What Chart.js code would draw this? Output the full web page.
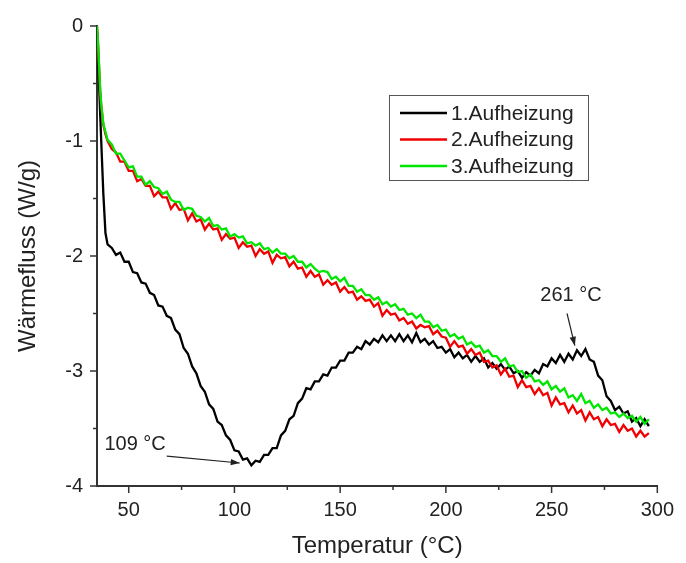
<!DOCTYPE html>
<html>
<head>
<meta charset="utf-8">
<script src="https://cdn.jsdelivr.net/npm/chart.js@4.4.1/dist/chart.umd.min.js"></script>
<style>
html,body{margin:0;padding:0;background:#fff;}
#wrap{width:686px;height:563px;position:relative;}
</style>
</head>
<body>
<div id="wrap"><canvas id="c"></canvas></div>
<script>
// ---- data ----
const temps = [35,35.5,36,36.5,37,38,39,40,
42,44,46,48,50,52,54,56,58,60,62,64,66,68,70,72,74,76,78,80,82,84,86,88,90,92,94,96,98,100,
102,104,106,108,110,112,114,116,118,120,122,124,126,128,130,132,134,136,138,140,142,144,146,148,150,
152,154,156,158,160,162,164,166,168,170,172,174,176,178,180,182,184,186,188,190,192,194,196,198,200,
202,204,206,208,210,212,214,216,218,220,222,224,226,228,230,232,234,236,238,240,242,244,246,248,250,
252,254,256,258,260,262,264,266,268,270,272,274,276,278,280,282,284,286,288,290,292,294,296];

const heat1 = [-0.05,-0.30,-0.52,-0.76,-1.00,-1.46,-1.80,-1.90,
-1.93,-1.99,-1.97,-2.05,-2.05,-2.14,-2.15,-2.23,-2.24,-2.32,-2.34,-2.43,-2.44,-2.52,-2.54,-2.64,-2.68,-2.80,-2.85,-2.96,-3.02,-3.13,-3.18,-3.29,-3.33,-3.44,-3.47,-3.56,-3.60,-3.69,
-3.70,-3.77,-3.76,-3.82,-3.78,-3.79,-3.73,-3.73,-3.67,-3.67,-3.56,-3.52,-3.42,-3.39,-3.28,-3.24,-3.15,-3.16,-3.09,-3.09,-3.03,-3.04,-2.97,-2.97,-2.91,
-2.91,-2.84,-2.84,-2.79,-2.81,-2.74,-2.77,-2.72,-2.75,-2.69,-2.74,-2.69,-2.74,-2.68,-2.74,-2.69,-2.75,-2.67,-2.75,-2.72,-2.77,-2.74,-2.80,-2.79,-2.84,
-2.81,-2.88,-2.84,-2.89,-2.86,-2.92,-2.87,-2.92,-2.89,-2.97,-2.93,-2.98,-2.94,-2.99,-2.96,-3.02,-3.00,-3.06,-3.01,-3.04,-2.99,-3.02,-2.94,-2.96,-2.89,
-2.93,-2.86,-2.92,-2.85,-2.90,-2.82,-2.87,-2.81,-2.90,-2.92,-3.04,-3.08,-3.22,-3.26,-3.34,-3.31,-3.37,-3.35,-3.44,-3.41,-3.48,-3.42,-3.48];

const heat2 = [0,-0.16,-0.36,-0.56,-0.69,-0.86,-0.94,-1.00,
-1.07,-1.10,-1.18,-1.18,-1.26,-1.26,-1.35,-1.33,-1.39,-1.39,-1.48,-1.44,-1.49,-1.49,-1.59,-1.54,-1.60,-1.59,-1.69,-1.63,-1.70,-1.68,-1.77,-1.72,-1.77,-1.76,-1.86,-1.81,-1.85,-1.84,
-1.93,-1.88,-1.92,-1.91,-2.00,-1.94,-1.98,-1.96,-2.06,-1.99,-2.02,-2.01,-2.09,-2.05,-2.11,-2.10,-2.18,-2.13,-2.18,-2.16,-2.25,-2.21,-2.25,-2.23,-2.31,
-2.27,-2.32,-2.31,-2.38,-2.35,-2.39,-2.38,-2.44,-2.41,-2.52,-2.47,-2.51,-2.50,-2.56,-2.54,-2.59,-2.57,-2.63,-2.60,-2.62,-2.61,-2.68,-2.65,-2.70,-2.71,
-2.79,-2.74,-2.79,-2.78,-2.85,-2.81,-2.86,-2.84,-2.92,-2.91,-2.97,-2.95,-3.03,-2.98,-3.05,-3.04,-3.14,-3.08,-3.14,-3.13,-3.20,-3.15,-3.21,-3.19,-3.30,
-3.23,-3.29,-3.28,-3.36,-3.30,-3.37,-3.34,-3.43,-3.36,-3.42,-3.40,-3.48,-3.42,-3.47,-3.46,-3.53,-3.47,-3.52,-3.50,-3.57,-3.52,-3.57,-3.54];

const heat3 = [0,-0.15,-0.35,-0.55,-0.68,-0.85,-0.92,-0.99,
-1.03,-1.11,-1.11,-1.17,-1.23,-1.22,-1.31,-1.31,-1.38,-1.35,-1.40,-1.41,-1.46,-1.44,-1.51,-1.53,-1.53,-1.60,-1.58,-1.59,-1.65,-1.66,-1.70,-1.67,-1.74,-1.73,-1.77,-1.76,-1.83,-1.81,
-1.84,-1.83,-1.89,-1.88,-1.91,-1.89,-1.94,-1.93,-1.97,-1.94,-1.98,-1.98,-2.02,-2.00,-2.05,-2.05,-2.10,-2.07,-2.11,-2.14,-2.13,-2.14,-2.20,-2.18,-2.22,
-2.19,-2.26,-2.26,-2.31,-2.29,-2.34,-2.34,-2.38,-2.36,-2.42,-2.40,-2.44,-2.42,-2.47,-2.46,-2.51,-2.50,-2.54,-2.51,-2.57,-2.57,-2.62,-2.60,-2.65,-2.64,
-2.70,-2.68,-2.72,-2.70,-2.77,-2.75,-2.79,-2.78,-2.84,-2.82,-2.87,-2.87,-2.92,-2.89,-2.96,-2.95,-3.01,-3.00,-3.06,-3.03,-3.09,-3.08,-3.12,-3.09,-3.16,
-3.13,-3.18,-3.15,-3.23,-3.21,-3.26,-3.20,-3.28,-3.26,-3.32,-3.29,-3.34,-3.32,-3.37,-3.36,-3.40,-3.37,-3.41,-3.39,-3.44,-3.40,-3.46,-3.42];

const seriesLabels = ['1.Aufheizung','2.Aufheizung','3.Aufheizung'];
const xTicks = [50,100,150,200,250,300];
const xMinorTicks = [75,125,175,225,275];
const yTicks = [-4,-3,-2,-1,0];
const yMinorTicks = [-3.5,-2.5,-1.5,-0.5];
const xTitle = 'Temperatur (°C)';
const yTitle = 'Wärmefluss (W/g)';
const notes = [
  {text:'109 °C', tx:38.5, ty:-3.64, align:'left', x0:68, y0:-3.74, x1:102.5, y1:-3.80},
  {text:'261 °C', tx:259.2, ty:-2.34, align:'center', x0:257.3, y0:-2.50, x1:261, y1:-2.78}
];

// ---- chart ----
const FONT = '"Liberation Sans", Arial, Helvetica, sans-serif';
Chart.defaults.font.family = FONT;
Chart.defaults.color = '#222';

const colors = ['#000000','#f00000','#00e600'];
const series = [heat1, heat2, heat3];

const datasets = series.map((s,i)=>({
  label: seriesLabels[i],
  data: temps.map((t,j)=>({x:t, y:s[j]})),
  borderColor: colors[i],
  borderWidth: 2.3,
  pointRadius: 0,
  tension: 0,
  fill: false,
  order: 3 - i
}));

function arrow(ctx, x0, y0, x1, y1){
  ctx.beginPath(); ctx.moveTo(x0,y0); ctx.lineTo(x1,y1); ctx.stroke();
  const ang = Math.atan2(y1-y0, x1-x0), L = 9, W = 3.2;
  ctx.beginPath();
  ctx.moveTo(x1,y1);
  ctx.lineTo(x1 - L*Math.cos(ang) + W*Math.sin(ang), y1 - L*Math.sin(ang) - W*Math.cos(ang));
  ctx.lineTo(x1 - L*Math.cos(ang) - W*Math.sin(ang), y1 - L*Math.sin(ang) + W*Math.cos(ang));
  ctx.closePath(); ctx.fill();
}

const overlay = {
  id: 'overlay',
  afterDraw(chart){
    const {ctx, chartArea:a} = chart;
    const x = chart.scales.x, y = chart.scales.y;
    ctx.save();
    ctx.strokeStyle = '#333'; ctx.lineWidth = 1.5;
    const seg = (x0,y0,x1,y1)=>{ctx.beginPath();ctx.moveTo(x0,y0);ctx.lineTo(x1,y1);ctx.stroke();};
    xTicks.forEach(v=>{const p=x.getPixelForValue(v); seg(p,a.bottom,p,a.bottom+7);});
    xMinorTicks.forEach(v=>{const p=x.getPixelForValue(v); seg(p,a.bottom,p,a.bottom+4);});
    yTicks.forEach(v=>{const p=y.getPixelForValue(v); seg(a.left-7,p,a.left,p);});
    yMinorTicks.forEach(v=>{const p=y.getPixelForValue(v); seg(a.left-4,p,a.left,p);});

    // annotations
    ctx.fillStyle = '#222'; ctx.strokeStyle = '#222'; ctx.lineWidth = 1.2;
    ctx.font = '20px ' + FONT; ctx.textBaseline = 'middle';
    notes.forEach(n=>{
      ctx.textAlign = n.align;
      ctx.fillText(n.text, x.getPixelForValue(n.tx), y.getPixelForValue(n.ty));
      arrow(ctx, x.getPixelForValue(n.x0), y.getPixelForValue(n.y0), x.getPixelForValue(n.x1), y.getPixelForValue(n.y1));
    });

    // legend
    const bx = 389.5, by = 95.5, bw = 199, bh = 85;
    ctx.fillStyle = '#fff'; ctx.fillRect(bx,by,bw,bh);
    ctx.strokeStyle = '#555'; ctx.lineWidth = 1; ctx.strokeRect(bx,by,bw,bh);
    ctx.font = '21px ' + FONT; ctx.textAlign = 'left'; ctx.textBaseline = 'middle';
    chart.data.datasets.forEach((d,i)=>{
      const cy = 113 + i*26.5;
      ctx.strokeStyle = d.borderColor; ctx.lineWidth = 2.5;
      seg(400, cy, 447, cy);
      ctx.fillStyle = '#222';
      ctx.fillText(d.label, 451, cy+1);
    });
    ctx.restore();
  }
};

new Chart(document.getElementById('c'), {
  type: 'line',
  data: { datasets },
  options: {
    responsive: true,
    maintainAspectRatio: false,
    animation: false,
    events: [],
    layout: { padding: { top: 22, right: 19, left: 0, bottom: 0 } },
    plugins: { legend: { display: false }, tooltip: { enabled: false } },
    scales: {
      x: {
        type: 'linear', min: 35, max: 300,
        afterBuildTicks: s => { s.ticks = xTicks.map(v=>({value:v})); },
        afterFit: s => { s.height = 77; },
        grid: { display: false, drawTicks: false },
        border: { display: true, color: '#333', width: 2 },
        ticks: { padding: 12, font: { size: 20 }, color: '#222', maxRotation: 0, autoSkip: false },
        title: { display: true, text: xTitle, font: { size: 24 }, color: '#222', padding: { top: 0, bottom: 2 } }
      },
      y: {
        type: 'linear', min: -4, max: 0,
        afterBuildTicks: s => { s.ticks = yTicks.map(v=>({value:v})); },
        afterFit: s => { s.width = 97; },
        grid: { display: false, drawTicks: false },
        border: { display: true, color: '#333', width: 2 },
        ticks: { padding: 14, font: { size: 20 }, color: '#222' },
        title: { display: true, text: yTitle, font: { size: 24 }, color: '#222', padding: { top: 14, bottom: 0 } }
      }
    }
  },
  plugins: [overlay]
});
</script>
</body>
</html>
